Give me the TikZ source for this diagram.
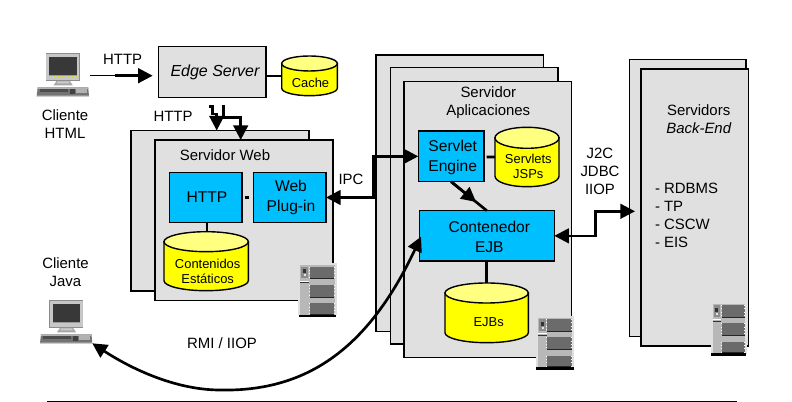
\documentclass[tikz,border=0pt]{standalone}
\usepackage{fontspec}
\setmainfont{Liberation Sans}
\usetikzlibrary{arrows.meta,calc}
\definecolor{boxgray}{HTML}{E0E0E0}
\definecolor{cblue}{HTML}{00BFFF}
\definecolor{cyel}{HTML}{FFFF00}
\definecolor{cyeltop}{HTML}{FFFF80}
\tikzset{
  x=0.75pt,y=-0.75pt,
  panel/.style={draw=black,fill=boxgray,line width=1.05pt,inner sep=0,outer sep=0},
  bluebox/.style={draw=black,fill=cblue,line width=1.05pt,inner sep=0,outer sep=0,align=center,font=\fsB},
  edgebox/.style={panel},
  cylline/.style={draw=black,line width=1.05pt},
  conn/.style={line width=2pt,line join=miter},
  thinconn/.style={line width=1.1pt},
  bigtip/.style={-{Triangle[length=11pt,width=11pt]}},
  bothtip/.style={{Triangle[length=11pt,width=11pt]}-{Triangle[length=11pt,width=11pt]}},
  lbl/.style={inner sep=0,outer sep=0,align=center,font=\fsA},
  lblS/.style={inner sep=0,outer sep=0,align=center,font=\fsC},
}
\newcommand{\fsA}{\fontsize{11.2}{13.6}\selectfont}
\newcommand{\fsB}{\fontsize{11.7}{15}\selectfont}
\newcommand{\fsC}{\fontsize{9.7}{11.2}\selectfont}
% [style]{name}{x1}{y1}{x2}{y2}{text}
\newcommand{\bx}[6][panel]{%
  \pgfmathsetmacro{\bw}{(#5-#3)*0.75}\pgfmathsetmacro{\bh}{(#6-#4)*0.75}%
  \pgfmathsetmacro{\bcx}{(#3+#5)/2}\pgfmathsetmacro{\bcy}{(#4+#6)/2}%
  \node[#1,minimum width=\bw pt,minimum height=\bh pt] (#2) at (\bcx,\bcy) {};}
% {name}{x1}{y1}{x2}{y2}{ry}
\newcommand{\cyl}[6]{%
  \pgfmathsetmacro{\bw}{(#4-#2)*0.75}\pgfmathsetmacro{\bh}{(#5-#3)*0.75}%
  \pgfmathsetmacro{\bcx}{(#2+#4)/2}\pgfmathsetmacro{\bcy}{(#3+#5)/2}%
  \pgfmathsetmacro{\rxp}{(#4-#2)*0.375}\pgfmathsetmacro{\ryp}{#6*0.75}%
  \pgfmathsetmacro{\ya}{#3+#6}\pgfmathsetmacro{\yb}{#5-#6}%
  \draw[cylline,fill=cyel] (#2,\ya) -- (#2,\yb) arc[start angle=180,end angle=360,x radius=\rxp pt,y radius=\ryp pt] -- (#4,\ya) -- cycle;
  \draw[cylline,fill=cyeltop] (\bcx,\ya) ellipse[x radius=\rxp pt,y radius=\ryp pt];
  \node[inner sep=0,outer sep=0,minimum width=\bw pt,minimum height=\bh pt] (#1) at (\bcx,\bcy) {};}
% PC icon: {x}{y}
\newcommand{\pcicon}[2]{%
 \begin{scope}[shift={(#1,#2)}]
  \fill[black!45] (9,0) rectangle (43,27.5);
  \fill[black!22] (9.5,0.5) rectangle (42.5,27);
  \fill[black!78] (12.5,4) rectangle (40,21.5);
  \fill[black!40] (12.5,21.5) rectangle (40,23);
  \foreach \dx in {14,17.5,...,39}{\fill[yellow!75!gray] (\dx,23.2) rectangle ++(1.5,1);}
  \fill[black!35] (20,27.5) -- (33,27.5) -- (36,32) -- (17,32) -- cycle;
  \fill[black!20] (21,28) -- (32,28) -- (33,30) -- (20,30) -- cycle;
  \fill[black!55] (1,34) -- (51.5,34) -- (52.3,43) -- (0,43) -- cycle;
  \fill[black!30] (1,34) -- (51.5,34) -- (51.7,35.5) -- (0.8,35.5) -- cycle;
  \fill[black!70] (3,36) rectangle (31,39);
  \fill[black!75] (33,36) rectangle (38,41);
  \fill[black!30] (39,36) rectangle (50,40);
  \fill[black!42] (0,41.3) rectangle (52.3,43);
 \end{scope}}
% server icon: {x}{y}{xscale}
\newcommand{\srvicon}[3]{%
 \begin{scope}[shift={(#1,#2)},xscale=#3]
  \fill[black!12] (0,0) rectangle (38.5,52);
  \fill[black!28] (2,2) rectangle (36.5,52);
  \fill[black] (0.5,51.5) rectangle (38,54);
  \fill[black!45] (3,3.5) rectangle (10,15);
  \fill[black!80] (5,6) rectangle (8,10);
  \fill[black!10] (6,11) rectangle (8,13);
  \fill[white] (2,17.5) rectangle (11,18.5);
  \fill[black!80] (2,19) rectangle (11,20);
  \foreach \yy/\hh in {3.3/11.7,21.5/12,40/10.7}{
    \fill[black!58] (11.5,\yy) rectangle ++(24.5,\hh);
    \fill[black!85] (11.5,\yy+\hh) rectangle ++(24.5,0.8);
    \draw[white,line width=0.5pt,dotted] (11,\yy) -- ++(0,\hh);
    \draw[white,line width=0.5pt,dotted] (36,\yy) -- ++(0,\hh);
  }
 \end{scope}}
\begin{document}
\begin{tikzpicture}
\useasboundingbox (0,0) rectangle (792,402);
\fill[white] (0,0) rectangle (792,402);

% client icons
\pcicon{36.7}{53.3}
\pcicon{40}{300.3}
\coordinate (pconeport) at (90,75.7);
\coordinate (pctwoport) at (92.3,343.3);

% Edge server + cache
\bx[edgebox]{edge}{158.3}{46.7}{266}{97.7}
\cyl{cache}{281.7}{56}{337.3}{95.7}{7.5}
\draw[conn] (edge.east |- 0,76) -- (cache.west |- 0,76);

% web server
\bx{webback}{131}{130.7}{309}{291}
\bx{webfront}{155}{140}{333}{300.7}
\bx[bluebox]{http}{169.3}{172.3}{242}{222.7}
\bx[bluebox]{plugin}{253.7}{172.3}{326}{222.7}
\draw[conn] ($(http.east)+(2.5,0)$) -- ($(http.east)+(6.5,0)$);
\cyl{static}{164}{231.7}{248.3}{290.7}{10}
\draw[thinconn] (http.south -| 207,0) -- (static.north -| 207,0);

% app server
\bx{appA}{376}{55}{543.7}{331.7}
\bx{appB}{390.7}{67.3}{558}{344}
\bx{appC}{404}{81.7}{571.7}{357.7}
\bx[bluebox]{servlet}{418.3}{131}{484}{181.7}
\bx[bluebox]{ejb}{419.3}{210.7}{554.3}{261}
\cyl{jsp}{495}{127.3}{559}{186.7}{10.5}
\cyl{ejbs}{445}{283}{528.3}{342.7}{10}
\draw[conn] ($(servlet.east)+(2.5,0.7)$) -- (jsp.west |- 0,157);
\draw[conn] (ejbs.north |- ejb.south) ++(0,1.5) -- (ejbs.north);

% back end
\bx{backA}{629.3}{59.3}{746}{336.7}
\bx{backB}{641}{69}{748.3}{346}

% server icons
\srvicon{298.3}{263.3}{1}
\srvicon{535.7}{315.7}{1}
\srvicon{710.7}{301.7}{0.94}

% labels
\node[lbl] (lblhttpa) at (122.7,59.5) {HTTP};
\node[lbl] (lblhttpb) at (173,116.7) {HTTP};
\node[lbl] (lblchtml) at (65,124) {Cliente\\HTML};
\node[lbl] (lbljava) at (65.5,272) {Cliente\\Java};
\node[lbl,font=\fontsize{12}{14}\selectfont\itshape] (lbledge) at (215,72.5) {Edge Server};
\node[lblS] (lblcache) at (310.5,82.5) {Cache};
\node[lbl] (lblweb) at (225,155) {Servidor Web};
\node[bluebox,draw=none,fill=none] (lblhttpc) at (207,197.5) {HTTP};
\node[bluebox,draw=none,fill=none] (lblplug) at (291,197.5) {Web\\Plug-in};
\node[lblS] (lblstat) at (207.7,271.5) {Contenidos\\Estáticos};
\node[lbl] (lblipc) at (351,179) {IPC};
\node[lbl] (lblrmi) at (222,342.7) {RMI / IIOP};
\node[lbl] (lblapp) at (488.3,103) {Servidor\\Aplicaciones};
\node[bluebox,draw=none,fill=none] (lblserv) at (452.7,157.8) {Servlet\\Engine};
\node[lblS] (lbljsp) at (528.3,166.7) {Servlets\\JSPs};
\node[bluebox,draw=none,fill=none] (lblcont) at (489.3,236.8) {Contenedor\\EJB};
\node[lblS] (lblejbs) at (488.7,322.3) {EJBs};
\node[lbl] (lblj) at (600,171.5) {J2C\\JDBC\\IIOP};
\node[lbl] (lblback) at (698.7,119) {Servidors\\\itshape Back-End};
\node[lbl,align=left,anchor=west] (lbllist) at (655,215.5) {- RDBMS\\- TP\\- CSCW\\- EIS};

% connectors
\coordinate (edgetipa) at (152.7,75.7);
\coordinate (httpbreak) at (115,75.7);
\draw[thinconn] (pconeport) -- (httpbreak);
\draw[conn,bigtip] (httpbreak) -- (edgetipa);

\coordinate (ea) at (209.3,106.7);
\coordinate (eb) at (212.7,114);
\coordinate (ec) at (216.7,130.5);
\draw[conn,bigtip] (ea) -- (ea -| eb) -- (eb) -- (eb -| ec) -- (ec);
\coordinate (fa) at (223.3,105);
\coordinate (fb) at (240.7,117.3);
\draw[conn,bigtip] (fa) -- (fa |- fb) -- (fb) -- (fb |- webfront.north);

\coordinate (ipcx) at (373.3,0);
\draw[conn,bothtip] (plugin.east) -- (plugin.east -| ipcx) -- (servlet.west -| ipcx) -- (servlet.west);

\draw[conn] (servlet.south) -- (ejb.north);
\draw[conn,bigtip] (servlet.south) -- ($(servlet.south)!0.7!(ejb.north)$);

\coordinate (beport) at (635,211.3);
\coordinate (bex) at (595.5,0);
\draw[conn,bothtip] (ejb.east) -- (ejb.east -| bex) -- (beport -| bex) -- (beport);

\coordinate (ejbport) at (421,236.7);
\draw[conn,bothtip] (pctwoport) .. controls (130,368) and (175,390) .. (220,390)
   .. controls (310,392) and (370,345) .. (ejbport);

\coordinate (rulea) at (47,401.2);
\coordinate (ruleb) at (737,401.2);
\draw[line width=0.75pt] (rulea) -- (ruleb);
\end{tikzpicture}
\end{document}
